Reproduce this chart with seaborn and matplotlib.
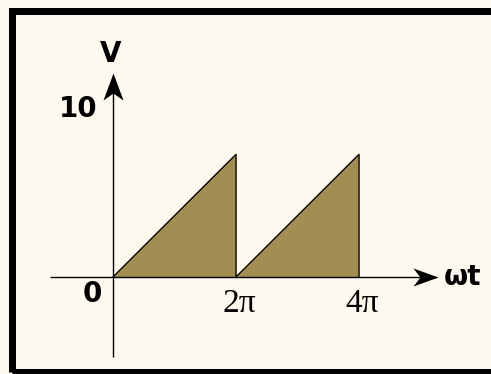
import numpy as np
import matplotlib
matplotlib.use('Agg')
import matplotlib.pyplot as plt
import seaborn as sns
from matplotlib.path import Path
from matplotlib.patches import Rectangle

sns.set_style("white")

# sawtooth data (omega*t in radians, V in volts)
wt = [0, 2 * np.pi, 2 * np.pi, 4 * np.pi, 4 * np.pi]
v = [0, 7.3, 0, 7.3, 0]

# tick labels
x_tick_pos = [2 * np.pi, 4 * np.pi]
x_tick_labels = ['2π', '4π']
y_tick_pos = [10]
y_tick_labels = ['10']

bg = '#fdf9ee'
fill_col = '#a28d52'

# pixel mapping of the reference (x: 61.5 px per pi, origin at 113 px; y: 16.8 px per volt, origin at 277 px)
W, H = 491, 374
px_per_rad = 61.5 / np.pi
px_per_v = 16.8
x0_px, y0_px = 113, 277

fig = plt.figure(figsize=(W / 100, H / 100), dpi=100, facecolor=bg)
ax = fig.add_axes([0, 0, 1, 1])
ax.set_facecolor(bg)
ax.set_xlim(-x0_px / px_per_rad, (W - x0_px) / px_per_rad)
ax.set_ylim((y0_px - H) / px_per_v, y0_px / px_per_v)
ax.axis('off')

def dx(px):
    return (px - x0_px) / px_per_rad

def dy(py):
    return (y0_px - py) / px_per_v

# axes lines
ax.plot([dx(50), dx(436)], [0, 0], color='black', lw=1.0, solid_capstyle='butt', zorder=2)
ax.plot([0, 0], [dy(357), dy(76)], color='black', lw=1.0, solid_capstyle='butt', zorder=2)

# stealth arrow heads
h_arrow = Path([(0, 0), (-25, 9), (-18, 0), (-25, -9), (0, 0)],
               [Path.MOVETO, Path.LINETO, Path.LINETO, Path.LINETO, Path.CLOSEPOLY])
v_arrow = Path([(0, 0), (-10, -27), (0, -20), (10, -27), (0, 0)],
               [Path.MOVETO, Path.LINETO, Path.LINETO, Path.LINETO, Path.CLOSEPOLY])
ax.plot([dx(438)], [0], marker=h_arrow, markersize=50 * 0.72, color='black', mew=0, zorder=4)
ax.plot([0], [dy(73)], marker=v_arrow, markersize=54 * 0.72, color='black', mew=0, zorder=4)

# sawtooth
df = {'wt': wt, 'v': v}
ax.fill(wt, v, color=fill_col, zorder=1)
sns.lineplot(x='wt', y='v', data=df, sort=False, estimator=None, color='black', lw=0.9, ax=ax, zorder=3)

# labels
bold = dict(family='DejaVu Sans', fontweight='bold', fontsize=20, color='black')
serif = dict(family='Liberation Serif', fontsize=24, color='black')
ax.text(dx(111), dy(54), 'V', ha='center', va='center', **bold)
for yp, lab in zip(y_tick_pos, y_tick_labels):
    ax.text(dx(97), yp, lab, ha='right', va='center', **bold)
ax.text(dx(92), dy(294), '0', ha='center', va='center', **bold)
for xp, lab in zip(x_tick_pos, x_tick_labels):
    ax.text(xp + dx(x0_px + 3), dy(304), lab, ha='center', va='center', **serif)
ax.text(dx(444), 0, 'ωt', ha='left', va='center', **bold)

# thick frame
fig.add_artist(Rectangle((11.5 / W, 2 / H), 1.2, (H - 10.5 - 2) / H, transform=fig.transFigure,
                         fill=False, edgecolor='black', lw=7 * 0.72, clip_on=False))

fig.savefig('out.png', dpi=100, facecolor=bg)
